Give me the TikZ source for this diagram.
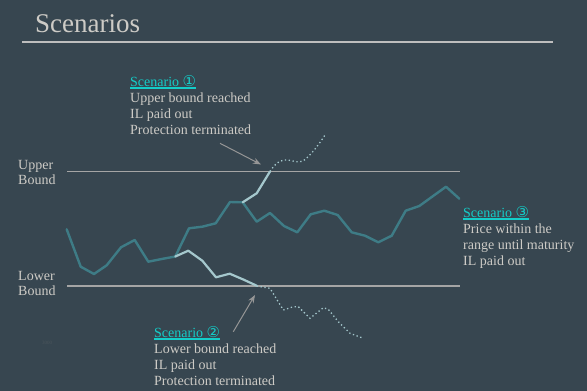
\documentclass[tikz,border=0pt]{standalone}
\usepackage{fontspec}
\setmainfont{Liberation Serif}
\newfontfamily\symf{DejaVu Sans}
\usetikzlibrary{arrows.meta}
\definecolor{bgc}{RGB}{55,70,80}
\definecolor{tealline}{RGB}{62,124,134}
\definecolor{lightline}{RGB}{165,200,205}
\definecolor{txtc}{RGB}{205,203,198}
\definecolor{cyanc}{RGB}{20,205,200}
\definecolor{boundc}{RGB}{165,165,165}
\definecolor{rulec}{RGB}{190,190,190}
\definecolor{arrc}{RGB}{150,150,150}
\definecolor{faintc}{RGB}{75,85,92}
\newcommand\scul[1]{\setbox0\hbox{#1}\rlap{\color{cyanc}\rule[-2.6pt]{\wd0}{2.1pt}}\box0}
\newcommand\circd[1]{{\symf\fontsize{15}{16}\selectfont #1}}
\tikzset{
  blk/.style={anchor=base west, inner sep=0pt, align=left, text=txtc, font=\fontsize{14}{16}\selectfont},
  lbl/.style={anchor=base west, inner sep=0pt, align=left, text=txtc, font=\fontsize{14}{15}\selectfont},
  boundline/.style={draw=boundc, line width=1.2pt},
  mainline/.style={draw=tealline, line width=2.4pt, line join=round, line cap=round},
  branchline/.style={draw=lightline, line width=2.2pt, line join=round, line cap=round},
  dotline/.style={draw=lightline, line width=1.3pt, dash pattern=on 1.3pt off 2.6pt},
  pointer/.style={draw=arrc, line width=1pt, -{Stealth[length=8pt,width=6pt]}}
}
\begin{document}
\begin{tikzpicture}[x=1pt,y=-1pt]
\fill[bgc] (0,0) rectangle (587,391);
\useasboundingbox (0,0) rectangle (587,391);
% title
\node[anchor=base west, inner sep=0pt, text=txtc, font=\fontsize{27}{30}\selectfont] (title) at (35,32) {Scenarios};
\draw[draw=rulec, line width=2pt] (22,42) -- (553,42);
% bounds
\draw[boundline] (67,171.5) -- (460,171.5);
\draw[boundline] (67,286) -- (460,286);
\node[lbl] (upper) at (18,184.3) {Upper\\Bound};
\node[lbl] (lower) at (18,295.3) {Lower\\Bound};
% main path
\draw[mainline] (66.7,229.3) -- (80.7,266.7) -- (94,274) -- (106.7,265.3) -- (121,247.3) -- (134.7,240) -- (148.3,261.7) -- (161.7,259) -- (175.3,256.5) -- (189,228.3) -- (202.3,226.7) -- (215.7,223.3) -- (230,202) -- (242.7,202.3) -- (256.7,221.7) -- (270,213) -- (284,226) -- (297.3,232.3) -- (310.7,214.3) -- (324.3,210.7) -- (337.7,215) -- (351.7,232.3) -- (365,235.7) -- (378.3,242.3) -- (391.7,235.7) -- (405.7,210.7) -- (419.3,206) -- (432.7,196.3) -- (446,186.7) -- (459.3,198.7);
% upper branch
\draw[branchline] (242.7,202.3) -- (256.7,193.3) -- (270,171.5);
\coordinate (uhit) at (270,171.5);
\draw[dotline] (270,171.5) .. controls (276,162) and (282,159) .. (288,160) .. controls (294,161) and (298,163) .. (303,161) .. controls (310,156) and (318,146) .. (325,135);
% lower branch
\draw[branchline] (175.3,256.5) -- (188.3,250.7) -- (202.3,260.7) -- (216,277.3) -- (229.7,273.7) -- (243.3,279.5) -- (256.7,285.7);
\coordinate (lhit) at (256.7,286);
\draw[dotline] (256.7,286) -- (270,288.3) -- (283.3,310) -- (293.3,306.7) -- (298.3,306.7) -- (310,318.3) -- (323.3,307.7) -- (328.3,309.3) -- (338.3,321.7) -- (350,333.3) -- (363.3,338.3);
% scenario texts
\node[blk] (s1) at (130,134.5) {\scul{{\color{cyanc}Scenario \circd{①}}}\\Upper bound reached\\IL paid out\\Protection terminated};
\node[blk] (s2) at (154,385) {\scul{{\color{cyanc}Scenario \circd{②}}}\\Lower bound reached\\IL paid out\\Protection terminated};
\node[blk] (s3) at (463,265) {\scul{{\color{cyanc}Scenario \circd{③}}}\\Price within the\\range until maturity\\IL paid out};
% pointers
\coordinate (a1) at (220,143.3);
\coordinate (a1e) at (261,164.5);
\coordinate (a2) at (233.3,331.7);
\coordinate (a2e) at (255,295);
\draw[pointer] (a1) -- (a1e);
\draw[pointer] (a2) -- (a2e);
% faint tick label
\node[anchor=center, inner sep=0pt, text=faintc, font=\fontsize{5}{6}\selectfont] (tick) at (47,343) {3000};
\end{tikzpicture}
\end{document}
